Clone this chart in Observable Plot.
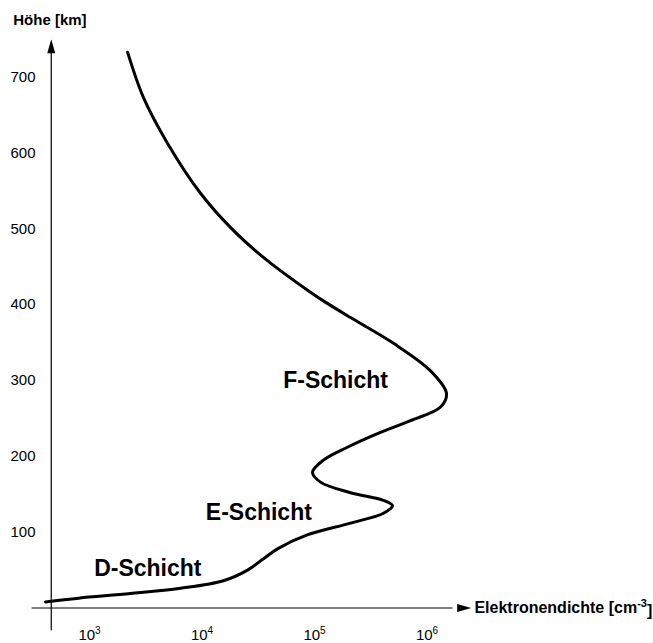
<!DOCTYPE html>
<html><head><meta charset="utf-8">
<script src="https://cdn.jsdelivr.net/npm/d3@7"></script>
<script src="https://cdn.jsdelivr.net/npm/@observablehq/plot@0.6"></script>
<style>
body{margin:0;background:#fff}
svg{font-family:"Liberation Sans",Arial,Helvetica,sans-serif}
</style>
</head><body><div id="chart"></div>
<script>
// Electron density profile, ordered from top to bottom
const heightKm = [733, 673, 613, 547, 498, 458, 419, 406, 383, 349, 313, 283, 265, 247, 230, 212, 195, 179, 166, 152, 142, 135, 125, 112, 96, 78, 65, 50, 36, 26, 19, 13, 8];
const densityCm3 = [2180, 3020, 4930, 9700, 19000, 38200, 86700, 117000, 209000, 504000, 1070000, 1490000, 1320000, 713000, 363000, 196000, 120000, 96000, 113000, 209000, 410000, 493000, 410000, 209000, 85000, 46900, 35200, 25400, 15500, 6440, 2310, 800, 406];

const yTicks = [100, 200, 300, 400, 500, 600, 700];
const xTicks = [1e3, 1e4, 1e5, 1e6];

const layerNames = ["D-Schicht", "E-Schicht", "F-Schicht"];
const layerDensity = [3300, 32000, 154000];
const layerHeight = [52, 126, 300];

const yAxisTitle = "Höhe [km]";
const xAxisTitle = "Elektronendichte [cm-3]";

// axis extents in data units
const yAxisAt = 457;            // density where vertical axis stands
const yAxisFrom = -30, yAxisTo = 750;
const xAxisFrom = 309, xAxisTo = 2.47e6;

const profile = heightKm.map((h, i) => ({h, n: densityCm3[i]}));
const layers = layerNames.map((name, i) => ({name, n: layerDensity[i], h: layerHeight[i]}));

const arrowHead = {
  draw(context) {
    context.moveTo(0, 0);
    context.lineTo(4, 14);
    context.lineTo(-4, 14);
    context.closePath();
  }
};

const chart = Plot.plot({
  width: 653,
  height: 643,
  marginLeft: 51,
  marginBottom: 35.5,
  marginTop: 0,
  marginRight: 0,
  style: {background: "#fff", color: "#000", overflow: "visible"},
  x: {type: "log", domain: [1e3, 1e6], range: [89, 426.5]},
  y: {domain: [0, 700], range: [607.5, 76.7]},
  marks: [
    Plot.axisY({ticks: yTicks, tickSize: 0, tickPadding: 16, fontSize: 15, label: null, tickFormat: d => String(d)}),
    Plot.axisX({ticks: xTicks, tickSize: 0, tickPadding: 21, fontSize: 15, label: null, tickFormat: d => "10^" + Math.round(Math.log10(d))}),
    // vertical axis
    Plot.ruleX([yAxisAt], {y1: yAxisFrom, y2: yAxisTo - 15, stroke: "#000", strokeWidth: 1.2}),
    Plot.dot([{n: yAxisAt, h: yAxisTo}], {x: "n", y: "h", symbol: arrowHead, r: 5, fill: "#000", stroke: null}),
    // horizontal axis
    Plot.ruleY([0], {x1: xAxisFrom, x2: xAxisTo / 1.45, stroke: "#000", strokeWidth: 1.2}),
    Plot.dot([{n: xAxisTo, h: 0}], {x: "n", y: "h", symbol: arrowHead, r: 5, rotate: 90, fill: "#000", stroke: null}),
    // profile
    Plot.line(profile, {x: "n", y: "h", curve: "catmull-rom", stroke: "#000", strokeWidth: 3}),
    // layer labels
    Plot.text(layers, {x: "n", y: "h", text: "name", fontSize: 23, fontWeight: "bold", fill: "#000"}),
    // titles
    Plot.text([yAxisTitle], {x: 210, y: 775, text: d => d, textAnchor: "start", fontSize: 15, fontWeight: "bold", fill: "#000"}),
    Plot.text([xAxisTitle], {x: 2640000, y: 0, text: d => d, textAnchor: "start", fontSize: 16, fontWeight: "bold", fill: "#000"})
  ]
});

document.getElementById("chart").appendChild(chart);

// superscripts
d3.select(chart).selectAll("text").each(function() {
  const t = d3.select(this);
  const s = this.textContent;
  const m = s.match(/^10\^(\d)$/);
  if (m) {
    t.text("10");
    t.append("tspan").attr("font-size", 10).attr("dy", "-0.6em").text(m[1]);
  } else if (s === xAxisTitle) {
    t.text("Elektronendichte [cm");
    t.append("tspan").attr("font-size", 11).attr("dy", "-0.6em").text("-3");
    t.append("tspan").attr("dy", "0.6em").attr("font-size", 16).text("]");
  }
});
</script>
</body></html>
